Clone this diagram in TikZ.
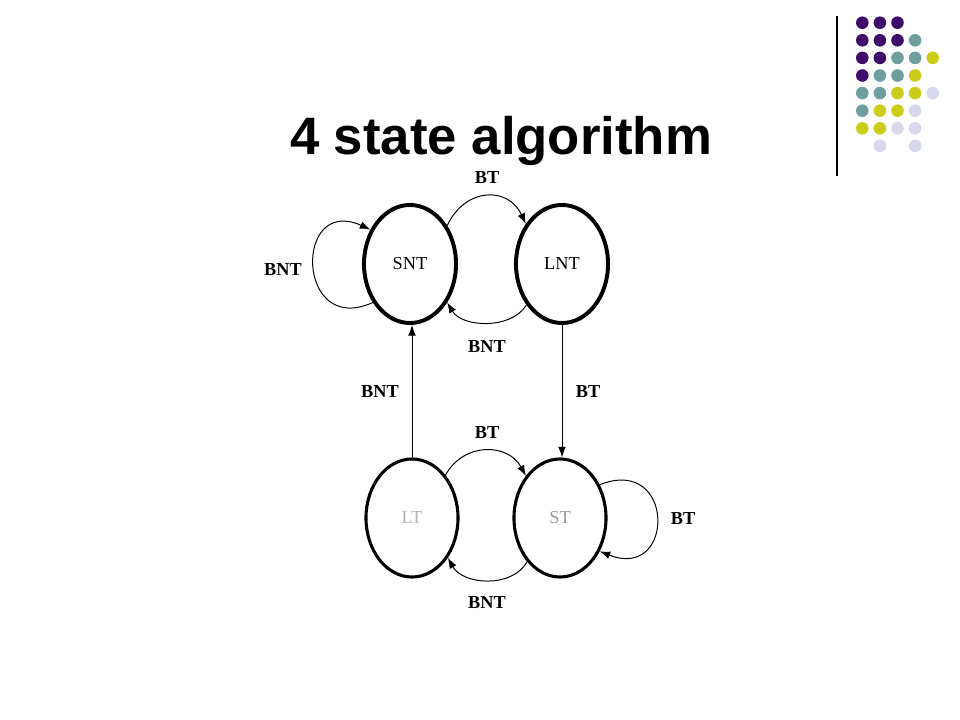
\documentclass[tikz,border=0pt]{standalone}
\usepackage{fontspec}
\setmainfont{Liberation Serif}
\newfontfamily\titlefont{Liberation Sans}
\usetikzlibrary{shapes.geometric,arrows.meta}
\definecolor{dotpurple}{HTML}{400C6C}
\definecolor{dotteal}{HTML}{6E9E9E}
\definecolor{dotyellow}{HTML}{CCCC1A}
\definecolor{dotlav}{HTML}{D8D8EC}

\begin{document}
\begin{tikzpicture}[x=0.025cm, y=-0.025cm,
    state/.style={ellipse, draw, line width=2.8pt, inner sep=0pt,
      minimum width=2.3cm, minimum height=2.95cm, font=\fontsize{13}{15}\selectfont},
    link/.style={line width=0.7pt, -{Latex[length=7.5pt,width=5.5pt]}},
    lab/.style={font=\fontsize{13}{15}\selectfont\bfseries}]
  \useasboundingbox (0,0) rectangle (960,720);

  \node[anchor=base, font=\titlefont\fontsize{37.5}{40}\selectfont\bfseries] (title) at (501,155) {4 state algorithm};

  \node[state] (snt) at (410,264) {SNT};
  \node[state] (lnt) at (562,264) {LNT};
  \node[state, line width=2.2pt, text=gray!60] (lt) at (412,518) {LT};
  \node[state, line width=2.2pt, text=gray!80] (st) at (560,518) {ST};

  \draw[link] (snt.46) .. controls +(18,-38) and +(-18,-38) .. (lnt.132);
  \draw[link] (lnt.229) .. controls +(-15,25) and +(15,25) .. (snt.314);
  \draw[link] (snt.226) .. controls +(-77,35) and +(-77,-35) .. (snt.139);
  \draw[link] (lt.north) -- (lt.north |- snt.south);
  \draw[link] (lnt.south) -- (lnt.south |- st.north);
  \draw[link] (lt.52) .. controls +(18,-33) and +(-18,-33) .. (st.129);
  \draw[link] (st.233) .. controls +(-15,27) and +(15,27) .. (lt.312);
  \draw[link] (st.40) .. controls +(76,-30) and +(76,30) .. (st.320);

  \node[lab] (bt1) at (487,178) {BT};
  \node[lab] (bnt1) at (487,347) {BNT};
  \node[lab] (bnt2) at (283,270) {BNT};
  \node[lab] (bnt3) at (380,392) {BNT};
  \node[lab] (bt2) at (588,392) {BT};
  \node[lab] (bt3) at (487,433) {BT};
  \node[lab] (bnt4) at (487,603) {BNT};
  \node[lab] (bt4) at (683,519) {BT};

  \draw[line width=1pt] (837,16) -- (837,176);
  \foreach \c/\r/\col in {0/0/dotpurple,1/0/dotpurple,2/0/dotpurple,
      0/1/dotpurple,1/1/dotpurple,2/1/dotpurple,3/1/dotteal,
      0/2/dotpurple,1/2/dotpurple,2/2/dotteal,3/2/dotteal,4/2/dotyellow,
      0/3/dotpurple,1/3/dotteal,2/3/dotteal,3/3/dotyellow,
      0/4/dotteal,1/4/dotteal,2/4/dotyellow,3/4/dotyellow,4/4/dotlav,
      0/5/dotteal,1/5/dotyellow,2/5/dotyellow,3/5/dotlav,
      0/6/dotyellow,1/6/dotyellow,2/6/dotlav,3/6/dotlav,
      1/7/dotlav,3/7/dotlav}
    \fill[\col] (862.3+17.6*\c, 22.7+17.6*\r) circle[radius=6.3];
\end{tikzpicture}
\end{document}
